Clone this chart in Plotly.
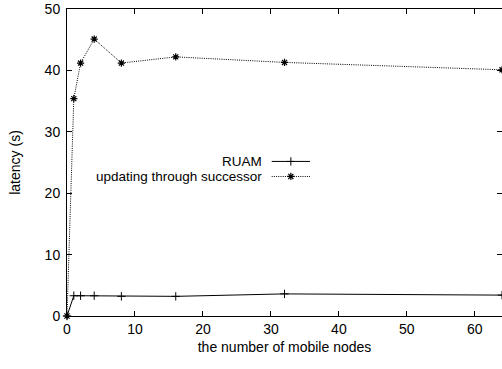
import plotly.graph_objects as go

nodes = [0, 1, 2, 4, 8, 16, 32, 64]
ruam = [0, 3.3, 3.3, 3.3, 3.2, 3.2, 3.6, 3.4]
successor = [0, 35.4, 41.2, 45.1, 41.2, 42.2, 41.3, 40.1]
series_names = ["RUAM", "updating through successor"]
x_ticks = [0, 10, 20, 30, 40, 50, 60]
y_ticks = [0, 10, 20, 30, 40, 50]

FONT = "Liberation Sans, Arial, Helvetica, sans-serif"
FS = 14
DOT = "1px,1.2px"

fig = go.Figure()
fig.add_trace(go.Scatter(
    x=nodes, y=ruam, mode="lines+markers", name=series_names[0],
    line=dict(color="black", width=1),
    marker=dict(symbol="cross-thin-open", size=6, color="black",
                line=dict(color="black", width=1)),
    cliponaxis=False, showlegend=False))
fig.add_trace(go.Scatter(
    x=nodes, y=successor, mode="lines+markers", name=series_names[1],
    line=dict(color="black", width=1, dash=DOT),
    marker=dict(symbol="asterisk-open", size=6, color="black",
                line=dict(color="black", width=1.2)),
    cliponaxis=False, showlegend=False))

# manual gnuplot-style legend (text left, sample right)
leg_y = [0.5035, 0.4545]
leg_x = [0.4706, 0.5146, 0.5586]
styles = [
    (dict(color="black", width=1), "cross-thin-open", 6, 1),
    (dict(color="black", width=1, dash=DOT), "asterisk-open", 6, 1.2),
]
for name, yy, (ln, sym, sz, lw) in zip(series_names, leg_y, styles):
    fig.add_trace(go.Scatter(
        x=[leg_x[0], leg_x[2]], y=[yy, yy], mode="lines", line=ln,
        xaxis="x2", yaxis="y2", showlegend=False, hoverinfo="skip"))
    fig.add_trace(go.Scatter(
        x=[leg_x[1]], y=[yy], mode="markers",
        marker=dict(symbol=sym, size=sz, color="black",
                    line=dict(color="black", width=lw)),
        xaxis="x2", yaxis="y2", showlegend=False, hoverinfo="skip"))
    fig.add_annotation(x=0.4476, y=yy, xref="paper", yref="paper",
                       text=name, showarrow=False, xanchor="right",
                       yanchor="middle", xshift=2,
                       font=dict(family=FONT, size=13.5, color="black"))

axis_common = dict(
    showgrid=False, zeroline=False, showline=True, linecolor="black",
    linewidth=1, mirror="allticks", ticks="inside", ticklen=5,
    tickcolor="black", tickwidth=1,
    tickfont=dict(family=FONT, size=FS, color="black"),
)
fig.update_layout(
    width=502, height=369,
    margin=dict(l=67, r=0, t=9, b=52.5),
    paper_bgcolor="white", plot_bgcolor="white",
    xaxis=dict(range=[0, 64], tickvals=x_ticks, **axis_common,
               title=dict(text="the number of mobile nodes",
                          font=dict(family=FONT, size=FS, color="black"),
                          standoff=6)),
    yaxis=dict(range=[0, 50], tickvals=y_ticks, ticklabelstandoff=3,
               **axis_common,
               title=dict(text="latency (s)",
                          font=dict(family=FONT, size=FS, color="black"),
                          standoff=20)),
    xaxis2=dict(range=[0, 1], overlaying="x", visible=False, fixedrange=True),
    yaxis2=dict(range=[0, 1], overlaying="y", visible=False, fixedrange=True),
)

fig.write_html("out.html")
